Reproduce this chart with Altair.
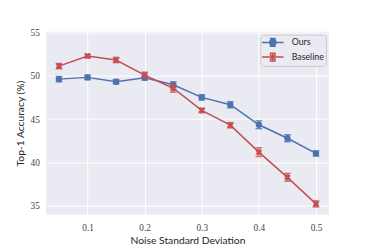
import altair as alt
import pandas as pd

noise = [0.05, 0.1, 0.15, 0.2, 0.25, 0.3, 0.35, 0.4, 0.45, 0.5]
ours = [49.6, 49.8, 49.3, 49.75, 48.95, 47.5, 46.65, 44.35, 42.8, 41.05]
ours_err = [0.3, 0.25, 0.25, 0.25, 0.35, 0.3, 0.35, 0.45, 0.4, 0.3]
base = [51.1, 52.25, 51.8, 50.05, 48.55, 46.0, 44.3, 41.2, 38.3, 35.25]
base_err = [0.3, 0.2, 0.3, 0.35, 0.45, 0.25, 0.3, 0.5, 0.45, 0.35]
series = ["Ours", "Baseline"]
colors = ["#4C72B0", "#C44E52"]

rows = []
for name, vals, errs in [("Ours", ours, ours_err), ("Baseline", base, base_err)]:
    for x, v, e in zip(noise, vals, errs):
        rows.append({"x": x, "y": v, "lo": v - e, "hi": v + e, "series": name})
df = pd.DataFrame(rows)

xs = alt.Scale(domain=[0.0275, 0.5225], nice=False, zero=False)
ys = alt.Scale(domain=[34.02, 55.06], nice=False, zero=False)
X = alt.X("x:Q", scale=xs, title="Noise Standard Deviation",
          axis=alt.Axis(values=[0.1, 0.2, 0.3, 0.4, 0.5], format=".1f"))
Y = alt.Y("y:Q", scale=ys, title="Top-1 Accuracy (%)",
          axis=alt.Axis(values=[35, 40, 45, 50, 55]))

base_chart = alt.Chart(df)
layers = []
for name, col in zip(series, colors):
    d = base_chart.transform_filter(alt.datum.series == name)
    layers.append(d.mark_line(color=col, strokeWidth=1.5).encode(x=X, y=Y))
    layers.append(d.mark_rule(color=col, strokeWidth=1.5, opacity=0.75).encode(
        x="x:Q", y="lo:Q", y2="hi:Q"))
    layers.append(d.mark_tick(color=col, orient="horizontal", size=7, thickness=1.5, opacity=0.75).encode(
        x="x:Q", y="lo:Q"))
    layers.append(d.mark_tick(color=col, orient="horizontal", size=7, thickness=1.5, opacity=0.75).encode(
        x="x:Q", y="hi:Q"))
    if name == "Ours":
        layers.append(d.mark_point(color=col, filled=True, size=42, opacity=1).encode(x="x:Q", y="y:Q"))
    else:
        layers.append(d.mark_point(color=col, shape="cross", angle=45, filled=True, size=45, opacity=1).encode(
            x="x:Q", y="y:Q"))

# legend glyphs (unit = 5px with symbolSize 100)
mx = 0.94
common = (f"M-1.26,0H3.14M{mx},-0.8V0.8M{mx-0.6},-0.8H{mx+0.6}M{mx-0.6},0.8H{mx+0.6}")
path_ours = common + (f"M{mx+0.65},0A0.65,0.65 0 1,1 {mx-0.65},0A0.65,0.65 0 1,1 {mx+0.65},0Z")
path_base = common + (f"M{mx-0.6},-0.6L{mx+0.6},0.6M{mx-0.6},0.6L{mx+0.6},-0.6")

leg = base_chart.transform_filter(alt.datum.x < 0).mark_point(filled=True, opacity=1, strokeWidth=1.5).encode(
    x="x:Q", y="y:Q",
    shape=alt.Shape("series:N", title=None, scale=alt.Scale(domain=series, range=[path_ours, path_base])),
    fill=alt.Fill("series:N", title=None, scale=alt.Scale(domain=series, range=colors)),
    stroke=alt.Stroke("series:N", title=None, scale=alt.Scale(domain=series, range=colors)),
)
layers.append(leg)

chart = alt.layer(*layers).properties(
    width=289, height=187,
    autosize=alt.AutoSizeParams(type="none"),
    padding={"left": 39, "top": 21.5, "right": 38, "bottom": 32},
).configure_view(fill="#EAEAF2", stroke=None).configure_axis(
    grid=True, gridColor="white", gridWidth=1, domain=False, ticks=False,
    labelFont="Liberation Serif", labelFontSize=9.5, labelColor="#444444",
    titleFont="Lato", titleFontSize=10.5, titleFontWeight="normal", titleColor="#262626",
).configure_axisX(labelPadding=8, titlePadding=4).configure_axisY(labelPadding=7, titlePadding=5).configure_legend(
    orient="top-right", offset=3, symbolSize=100, symbolStrokeWidth=1.5,
    labelFont="Lato", labelFontSize=9, labelColor="#262626", labelOffset=18,
    strokeColor="#CCCCCC", fillColor="#EAEAF2", cornerRadius=3, padding=2, rowPadding=1,
    symbolOpacity=1,
)

chart.save("out.html", embed_options={"renderer": "svg", "actions": False})
